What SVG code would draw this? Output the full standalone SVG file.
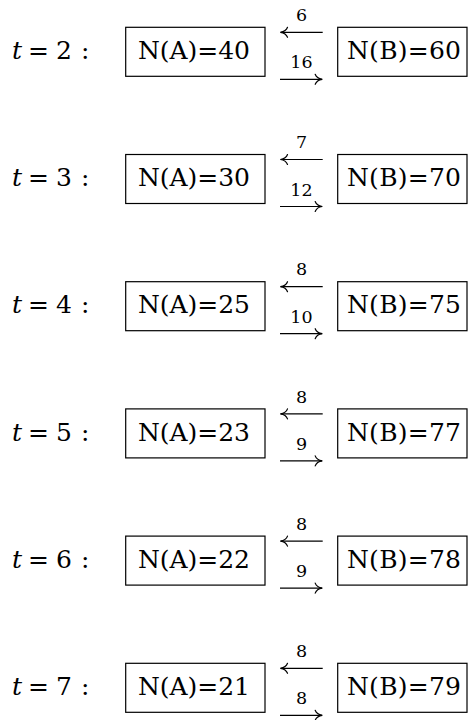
<svg xmlns="http://www.w3.org/2000/svg" width="468" height="720" viewBox="0 0 468 720">
<defs>
<style>
.bg{fill:#fff}
.box{fill:#fff;stroke:#000;stroke-width:1.2}
.val{font-family:"DejaVu Serif","Liberation Serif",serif;font-size:25px;fill:#000}
.tl{font-family:"DejaVu Serif","Liberation Serif",serif;font-size:25px;fill:#000}
.it{font-style:italic}
.lab{font-family:"DejaVu Serif","Liberation Serif",serif;font-size:17.5px;fill:#000;text-anchor:middle}
.arr{stroke:#000;stroke-width:1.2;fill:none;marker-end:url(#head)}
</style>
<marker id="head" markerUnits="userSpaceOnUse" viewBox="-9 -7 11 14" refX="0" refY="0" markerWidth="11" markerHeight="14" orient="auto" overflow="visible">
<path d="M -7 -5 C -6 -2.2 -3 -0.5 0 0 C -3 0.5 -6 2.2 -7 5" fill="none" stroke="#000" stroke-width="1.2" stroke-linecap="round"/>
</marker>
</defs>
<rect class="bg" x="0" y="0" width="468" height="720"/>

<g id="row-t2" transform="translate(0,27.3)">
<text class="tl" y="31.7"><tspan class="it" x="12">t</tspan><tspan x="28">=</tspan><tspan x="56">2</tspan><tspan x="81">:</tspan></text>
<g id="A-t2"><rect class="box" x="125.7" y="0" width="139.3" height="49"/><text class="val" x="138" y="31.7" textLength="112">N(A)=40</text></g>
<g id="B-t2"><rect class="box" x="337.7" y="0" width="129.3" height="49"/><text class="val" x="347" y="31.7" textLength="114">N(B)=60</text></g>
</g>

<g id="row-t3" transform="translate(0,154.5)">
<text class="tl" y="31.7"><tspan class="it" x="12">t</tspan><tspan x="28">=</tspan><tspan x="56">3</tspan><tspan x="81">:</tspan></text>
<g id="A-t3"><rect class="box" x="125.7" y="0" width="139.3" height="49"/><text class="val" x="138" y="31.7" textLength="112">N(A)=30</text></g>
<g id="B-t3"><rect class="box" x="337.7" y="0" width="129.3" height="49"/><text class="val" x="347" y="31.7" textLength="114">N(B)=70</text></g>
</g>

<g id="row-t4" transform="translate(0,281.7)">
<text class="tl" y="31.7"><tspan class="it" x="12">t</tspan><tspan x="28">=</tspan><tspan x="56">4</tspan><tspan x="81">:</tspan></text>
<g id="A-t4"><rect class="box" x="125.7" y="0" width="139.3" height="49"/><text class="val" x="138" y="31.7" textLength="112">N(A)=25</text></g>
<g id="B-t4"><rect class="box" x="337.7" y="0" width="129.3" height="49"/><text class="val" x="347" y="31.7" textLength="114">N(B)=75</text></g>
</g>

<g id="row-t5" transform="translate(0,408.9)">
<text class="tl" y="31.7"><tspan class="it" x="12">t</tspan><tspan x="28">=</tspan><tspan x="56">5</tspan><tspan x="81">:</tspan></text>
<g id="A-t5"><rect class="box" x="125.7" y="0" width="139.3" height="49"/><text class="val" x="138" y="31.7" textLength="112">N(A)=23</text></g>
<g id="B-t5"><rect class="box" x="337.7" y="0" width="129.3" height="49"/><text class="val" x="347" y="31.7" textLength="114">N(B)=77</text></g>
</g>

<g id="row-t6" transform="translate(0,536.1)">
<text class="tl" y="31.7"><tspan class="it" x="12">t</tspan><tspan x="28">=</tspan><tspan x="56">6</tspan><tspan x="81">:</tspan></text>
<g id="A-t6"><rect class="box" x="125.7" y="0" width="139.3" height="49"/><text class="val" x="138" y="31.7" textLength="112">N(A)=22</text></g>
<g id="B-t6"><rect class="box" x="337.7" y="0" width="129.3" height="49"/><text class="val" x="347" y="31.7" textLength="114">N(B)=78</text></g>
</g>

<g id="row-t7" transform="translate(0,663.3)">
<text class="tl" y="31.7"><tspan class="it" x="12">t</tspan><tspan x="28">=</tspan><tspan x="56">7</tspan><tspan x="81">:</tspan></text>
<g id="A-t7"><rect class="box" x="125.7" y="0" width="139.3" height="49"/><text class="val" x="138" y="31.7" textLength="112">N(A)=21</text></g>
<g id="B-t7"><rect class="box" x="337.7" y="0" width="129.3" height="49"/><text class="val" x="347" y="31.7" textLength="114">N(B)=79</text></g>
</g>

<g id="connectors">
<g transform="translate(0,27.3)">
<line class="arr" x1="322.7" y1="5" x2="280.5" y2="5"/><text class="lab" x="301.5" y="-6.3">6</text>
<line class="arr" x1="280" y1="52" x2="322.2" y2="52"/><text class="lab" x="301.5" y="41">16</text>
</g>
<g transform="translate(0,154.5)">
<line class="arr" x1="322.7" y1="5" x2="280.5" y2="5"/><text class="lab" x="301.5" y="-6.3">7</text>
<line class="arr" x1="280" y1="52" x2="322.2" y2="52"/><text class="lab" x="301.5" y="41">12</text>
</g>
<g transform="translate(0,281.7)">
<line class="arr" x1="322.7" y1="5" x2="280.5" y2="5"/><text class="lab" x="301.5" y="-6.3">8</text>
<line class="arr" x1="280" y1="52" x2="322.2" y2="52"/><text class="lab" x="301.5" y="41">10</text>
</g>
<g transform="translate(0,408.9)">
<line class="arr" x1="322.7" y1="5" x2="280.5" y2="5"/><text class="lab" x="301.5" y="-6.3">8</text>
<line class="arr" x1="280" y1="52" x2="322.2" y2="52"/><text class="lab" x="301.5" y="41">9</text>
</g>
<g transform="translate(0,536.1)">
<line class="arr" x1="322.7" y1="5" x2="280.5" y2="5"/><text class="lab" x="301.5" y="-6.3">8</text>
<line class="arr" x1="280" y1="52" x2="322.2" y2="52"/><text class="lab" x="301.5" y="41">9</text>
</g>
<g transform="translate(0,663.3)">
<line class="arr" x1="322.7" y1="5" x2="280.5" y2="5"/><text class="lab" x="301.5" y="-6.3">8</text>
<line class="arr" x1="280" y1="52" x2="322.2" y2="52"/><text class="lab" x="301.5" y="41">8</text>
</g>
</g>
</svg>
